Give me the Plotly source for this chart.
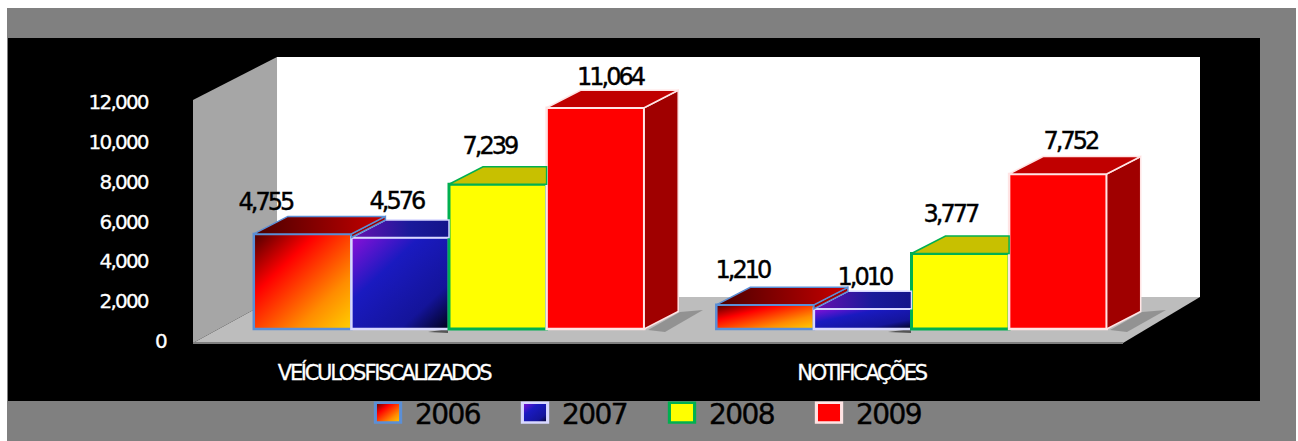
import plotly.graph_objects as go

W, H = 1298, 441
categories = ["VEÍCULOS FISCALIZADOS", "NOTIFICAÇÕES"]
series_names = ["2006", "2007", "2008", "2009"]
v2006 = [4755, 1210]
v2007 = [4576, 1010]
v2008 = [7239, 3777]
v2009 = [11064, 7752]
all_values = [v2006, v2007, v2008, v2009]
tick_values = [0, 2000, 4000, 6000, 8000, 10000, 12000]
tick_labels = ["0", "2,000", "4,000", "6,000", "8,000", "10,000", "12,000"]
tick_labels = [tick_labels[0]] + [t + "\u00a0" * 4 for t in tick_labels[1:]]

front_colors = ["#e03000", "#1a1ab8", "#ffff00", "#ff0000"]
top_colors = ["#8a0000", "#3a14a0", "#c8c000", "#c00000"]
side_colors = ["#a00000", "#14148a", "#a0a000", "#a00000"]
edge_colors = ["#5b8fd6", "#d8d8ff", "#00b050", "#ffe4e4"]
edge_widths = [2.5, 2.5, 3, 2.5]

# scales (pixels per data unit)
PX_PER_GROUP = 462.5
PX_PER_VALUE = 0.02
ORIGIN_X, ORIGIN_Y = 449, 329
BAR_W = 97.6 / PX_PER_GROUP
DX = 34 / PX_PER_GROUP
DY = 17.5 / PX_PER_VALUE
groups = [0, 1]

label_dx = [[-37, -4, -8, 15], [-23, 2, -10, 13]]
label_dy = [[32, 36, 38, 31], [35, 32, 39, 33]]
cat_offset_px = [-65, -50]


def px(x, y):
    return x / W, 1 - y / H


def poly(points, fill, line=None, lw=0, opacity=1):
    p = [px(*q) for q in points]
    path = "M" + "L".join(f"{a:.5f},{b:.5f}" for a, b in p) + "Z"
    return dict(type="path", xref="paper", yref="paper", path=path, fillcolor=fill,
                line=dict(color=line or "rgba(0,0,0,0)", width=lw), layer="below", opacity=opacity)


shapes = [
    poly([(7, 8), (1296, 8), (1296, 441), (7, 441)], "#808080"),
    poly([(8, 38), (1260, 38), (1260, 401), (8, 401)], "#000000"),
    poly([(277, 57), (1200, 57), (1200, 297), (277, 297)], "#ffffff"),
    poly([(193, 100), (277, 57), (277, 297), (193, 343)], "#a6a6a6"),
    poly([(193, 343), (1123, 343), (1200, 297), (277, 297)], "#bdbdbd"),
    poly([(193, 342), (1123, 342), (1123, 344), (193, 344)], "#7f7f7f"),
    poly([(648, 330), (680, 312), (703, 310), (665, 332)], "#808080", opacity=0.7),
    poly([(1110, 330), (1142, 312), (1166, 310), (1127, 332)], "#808080", opacity=0.7),
    poly([(428, 332), (448, 329), (448, 333)], "#555555"),
    poly([(888, 332), (911, 329), (911, 333)], "#555555"),
]

fig = go.Figure()

for s, name in enumerate(series_names):
    fig.add_trace(go.Bar(
        x=groups, y=all_values[s], name=name,
        marker=dict(color=front_colors[s], line=dict(color=edge_colors[s], width=edge_widths[s])),
        hoverinfo="skip",
    ))

# depth faces, derived from the values; nearer neighbour is drawn later
gradient_css = []
scatter_index = 0
for s in reversed(range(4)):
    for g in groups:
        val = all_values[s][g]
        nxt = all_values[s + 1][g] if s < 3 else 0
        x0 = g + (s - 2) * BAR_W
        x1 = x0 + BAR_W
        if nxt > val:
            tx = [x0, x1, x1, x0 + DX, x0]
            ty = [val, val, val + DY, val + DY, val]
        else:
            tx = [x0, x1, x1 + DX, x0 + DX, x0]
            ty = [val, val, val + DY, val + DY, val]
        # side face
        if nxt <= val:
            sx = [x1, x1 + DX, x1 + DX, x1, x1]
            sy = [val, val + DY, nxt + DY, nxt, val]
            fig.add_trace(go.Scatter(x=sx, y=sy, mode="lines", fill="toself", fillcolor=side_colors[s],
                                     line=dict(color=edge_colors[s], width=1.5), showlegend=False, hoverinfo="skip"))
            scatter_index += 1
        fig.add_trace(go.Scatter(x=tx, y=ty, mode="lines", fill="toself", fillcolor=top_colors[s],
                                 line=dict(color=edge_colors[s], width=1.5), showlegend=False, hoverinfo="skip"))
        scatter_index += 1
        if s < 2:
            gradient_css.append(
                f".subplot.xy .scatterlayer .trace:nth-child({scatter_index}) .js-fill"
                f"{{fill:url(#top{series_names[s]}) !important}}")

# invisible trace that carries the front-plane value axis
fig.add_trace(go.Scatter(x=[0], y=[0], yaxis="y2", mode="markers", marker=dict(opacity=0),
                         showlegend=False, hoverinfo="skip"))

annotations = []
for s in range(4):
    for g in groups:
        annotations.append(dict(
            x=g + (s - 1.5) * BAR_W, y=all_values[s][g], xref="x", yref="y",
            text=f"{all_values[s][g]:,}", showarrow=False, xanchor="center", yanchor="middle",
            xshift=label_dx[g][s], yshift=label_dy[g][s],
            font=dict(family="DejaVu Sans", size=24, color="#000000"),
        ))

x_lo = -ORIGIN_X / PX_PER_GROUP
x_hi = (W - ORIGIN_X) / PX_PER_GROUP
y_lo = (ORIGIN_Y - H) / PX_PER_VALUE
y_hi = ORIGIN_Y / PX_PER_VALUE
PX_PER_TICK = 239 / 12000
y2_lo = (341 - H) / PX_PER_TICK
y2_hi = 341 / PX_PER_TICK

fig.update_layout(
    width=W, height=H, autosize=False, margin=dict(l=0, r=0, t=0, b=0),
    paper_bgcolor="#ffffff", plot_bgcolor="rgba(0,0,0,0)",
    barmode="group", bargap=1 - 4 * BAR_W, bargroupgap=0,
    shapes=shapes, annotations=annotations,
    xaxis=dict(range=[x_lo, x_hi], domain=[0, 1], anchor="free", position=1 - 358 / H,
               tickvals=[g + d / PX_PER_GROUP for g, d in zip(groups, cat_offset_px)], ticktext=categories,
               tickangle=0, showgrid=False, zeroline=False, showline=False, ticks="",
               tickfont=dict(family="DejaVu Sans", size=21, color="#ffffff")),
    yaxis=dict(range=[y_lo, y_hi], visible=False, domain=[0, 1]),
    yaxis2=dict(range=[y2_lo, y2_hi], overlaying="y", anchor="free", position=166 / W, side="left",
                tickvals=tick_values, ticktext=tick_labels, showgrid=False, zeroline=False, showline=False,
                ticks="", tickfont=dict(family="DejaVu Sans", size=20, color="#ffffff")),
    legend=dict(orientation="h", x=367 / W, y=1 - 413 / H, xanchor="left", yanchor="middle",
                bgcolor="rgba(0,0,0,0)", font=dict(family="DejaVu Sans", size=28, color="#000000"),
                entrywidth=94, entrywidthmode="pixels", itemwidth=38, traceorder="normal",
                itemclick=False, itemdoubleclick=False),
    showlegend=True,
)

css = """
body{margin:0;overflow:hidden}
.y2tick text{letter-spacing:-1.8px;stroke:#fff;stroke-width:0.3px}
.xtick text{letter-spacing:-2.3px;word-spacing:-4px;stroke:#fff;stroke-width:0.3px}
.annotation-text{letter-spacing:-3px;stroke:#000;stroke-width:0.4px}
.legendtext{letter-spacing:-1.6px;stroke:#000;stroke-width:0.4px}
.legendpoints path{transform:translate(21px,0) scale(2.1,1.65);stroke-width:1.5px !important}
.barlayer .trace:nth-child(1) .point path,.legend .traces:nth-child(1) .legendpoints path{fill:url(#front2006) !important}
.barlayer .trace:nth-child(2) .point path,.legend .traces:nth-child(2) .legendpoints path{fill:url(#front2007) !important}
""" + "\n".join(gradient_css)

defs = """
<svg xmlns='http://www.w3.org/2000/svg' width='0' height='0' style='position:absolute'><defs>
<linearGradient id='front2006' x1='0' y1='0' x2='1' y2='1'>
<stop offset='0' stop-color='#4a0000'/><stop offset='0.32' stop-color='#ff0000'/>
<stop offset='0.72' stop-color='#ff8c00'/><stop offset='1' stop-color='#ffd000'/></linearGradient>
<linearGradient id='front2007' x1='0' y1='0' x2='1' y2='1'>
<stop offset='0' stop-color='#8a10d8'/><stop offset='0.35' stop-color='#1a1ac0'/>
<stop offset='0.75' stop-color='#14149a'/><stop offset='1' stop-color='#00001a'/></linearGradient>
<linearGradient id='top2006' x1='0' y1='0' x2='1' y2='0'>
<stop offset='0' stop-color='#4a0000'/><stop offset='1' stop-color='#c80000'/></linearGradient>
<linearGradient id='top2007' x1='0' y1='0' x2='1' y2='0'>
<stop offset='0' stop-color='#6a10b0'/><stop offset='0.6' stop-color='#1a1a9a'/><stop offset='1' stop-color='#14148a'/></linearGradient>
</defs></svg>
"""

post = ("var st=document.createElement('style');st.textContent=" + repr(css) + ";document.head.appendChild(st);"
        "var d=document.createElement('div');d.innerHTML=" + repr(defs) + ";document.body.appendChild(d);")

fig.write_html("out.html", post_script=post, config=dict(displayModeBar=False))
